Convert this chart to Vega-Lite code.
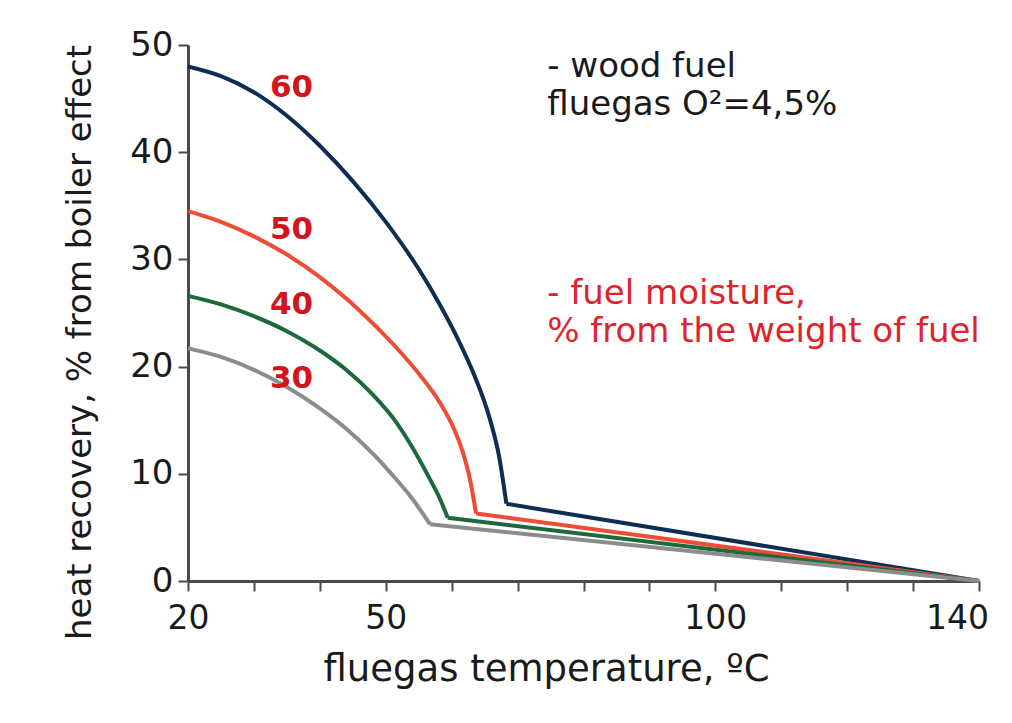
{
  "$schema": "https://vega.github.io/schema/vega-lite/v6.json",
  "width": 791,
  "height": 536,
  "autosize": {"type": "none"},
  "padding": {"left": 188, "top": 45, "right": 33, "bottom": 142},
  "background": "white",
  "config": {
    "view": {"stroke": null},
    "font": "DejaVu Sans"
  },
  "datasets": {
    "curves": [
      {"m": "60", "t": 20, "r": 48.0}, {"m": "60", "t": 25, "r": 47.1}, {"m": "60", "t": 30, "r": 45.6},
      {"m": "60", "t": 35, "r": 43.4}, {"m": "60", "t": 40, "r": 40.6}, {"m": "60", "t": 45, "r": 37.3},
      {"m": "60", "t": 50, "r": 33.5}, {"m": "60", "t": 55, "r": 29.1}, {"m": "60", "t": 58, "r": 26.0},
      {"m": "60", "t": 61, "r": 22.5}, {"m": "60", "t": 63.5, "r": 19.1}, {"m": "60", "t": 65.8, "r": 15.1},
      {"m": "60", "t": 67.2, "r": 11.6}, {"m": "60", "t": 68.3, "r": 7.2},
      {"m": "50", "t": 20, "r": 34.5}, {"m": "50", "t": 25, "r": 33.5}, {"m": "50", "t": 30, "r": 32.15},
      {"m": "50", "t": 35, "r": 30.45}, {"m": "50", "t": 40, "r": 28.35}, {"m": "50", "t": 44, "r": 26.35},
      {"m": "50", "t": 48, "r": 24.05}, {"m": "50", "t": 52, "r": 21.5}, {"m": "50", "t": 55, "r": 19.35},
      {"m": "50", "t": 58.2, "r": 16.65}, {"m": "50", "t": 60.2, "r": 14.4}, {"m": "50", "t": 61.7, "r": 12.0},
      {"m": "50", "t": 62.8, "r": 9.4}, {"m": "50", "t": 63.7, "r": 6.3},
      {"m": "40", "t": 20, "r": 26.6}, {"m": "40", "t": 25, "r": 25.8}, {"m": "40", "t": 30, "r": 24.7},
      {"m": "40", "t": 35, "r": 23.3}, {"m": "40", "t": 40, "r": 21.5}, {"m": "40", "t": 44, "r": 19.7},
      {"m": "40", "t": 48, "r": 17.4}, {"m": "40", "t": 51.6, "r": 14.8}, {"m": "40", "t": 54, "r": 12.5},
      {"m": "40", "t": 56.7, "r": 9.5}, {"m": "40", "t": 58.2, "r": 7.7}, {"m": "40", "t": 59.4, "r": 5.9},
      {"m": "30", "t": 20, "r": 21.7}, {"m": "30", "t": 25, "r": 20.9}, {"m": "30", "t": 30, "r": 19.7},
      {"m": "30", "t": 35, "r": 18.1}, {"m": "30", "t": 40, "r": 16.1}, {"m": "30", "t": 44, "r": 14.2},
      {"m": "30", "t": 48, "r": 11.9}, {"m": "30", "t": 51, "r": 9.9}, {"m": "30", "t": 54, "r": 7.7},
      {"m": "30", "t": 56.7, "r": 5.3}
    ],
    "tails": [
      {"m": "60", "t": 68.3, "r": 7.2}, {"m": "60", "t": 140, "r": 0},
      {"m": "50", "t": 63.7, "r": 6.3}, {"m": "50", "t": 140, "r": 0},
      {"m": "40", "t": 59.4, "r": 5.9}, {"m": "40", "t": 140, "r": 0},
      {"m": "30", "t": 56.7, "r": 5.3}, {"m": "30", "t": 140, "r": 0}
    ],
    "labels": [
      {"m": "60", "t": 35.7, "r": 46.0},
      {"m": "50", "t": 35.7, "r": 32.7},
      {"m": "40", "t": 35.7, "r": 25.7},
      {"m": "30", "t": 35.7, "r": 18.8}
    ],
    "notesBlack": [
      {"text": ["- wood fuel", "fluegas O²=4,5%"], "t": 74.5, "r": 47.0}
    ],
    "notesRed": [
      {"text": ["- fuel moisture,", "% from the weight of fuel"], "t": 74.5, "r": 25.8}
    ]
  },
  "layer": [
    {
      "data": {"name": "curves"},
      "mark": {"type": "line", "strokeWidth": 4, "interpolate": "monotone"},
      "encoding": {
        "x": {
          "field": "t", "type": "quantitative",
          "scale": {"domain": [20, 140], "nice": false, "zero": false},
          "axis": {
            "title": "fluegas temperature, ºC",
            "values": [20, 30, 40, 50, 60, 70, 80, 90, 100, 110, 120, 130, 140],
            "labelExpr": "(datum.value == 20 || datum.value == 50 || datum.value == 100 || datum.value == 140) ? datum.label : ''",
            "labelOffset": {"condition": {"test": "datum.value == 140", "value": -22}, "value": 0},
            "grid": false,
            "domainColor": "#4a4a4a", "domainWidth": 3,
            "tickColor": "#4a4a4a", "tickWidth": 2, "tickSize": 10,
            "labelFont": "DejaVu Sans", "labelFontSize": 33, "labelColor": "#1a1a1a",
            "labelPadding": 11, "labelOverlap": false, "labelFlush": false,
            "titleFont": "DejaVu Sans", "titleFontSize": 37, "titleFontWeight": "normal",
            "titleColor": "#1a1a1a", "titlePadding": 16, "titleX": 358
          }
        },
        "y": {
          "field": "r", "type": "quantitative",
          "scale": {"domain": [0, 50], "nice": false},
          "axis": {
            "title": "heat recovery, % from boiler effect",
            "values": [0, 10, 20, 30, 40, 50],
            "grid": false,
            "domainColor": "#4a4a4a", "domainWidth": 3,
            "tickColor": "#4a4a4a", "tickWidth": 2, "tickSize": 10,
            "labelFont": "DejaVu Sans", "labelFontSize": 34, "labelColor": "#1a1a1a",
            "labelPadding": 5, "labelFlush": false,
            "titleFont": "DejaVu Sans", "titleFontSize": 34, "titleFontWeight": "normal",
            "titleColor": "#1a1a1a", "titlePadding": 32, "titleY": 297
          }
        },
        "color": {
          "field": "m", "type": "nominal",
          "scale": {"domain": ["30", "40", "50", "60"], "range": ["#8c8c8c", "#1c6a3b", "#ef4c38", "#0e2d53"]},
          "legend": null
        },
        "order": {"field": "t", "type": "quantitative"}
      }
    },
    {
      "data": {"name": "tails"},
      "mark": {"type": "line", "strokeWidth": 4},
      "encoding": {
        "x": {"field": "t", "type": "quantitative"},
        "y": {"field": "r", "type": "quantitative"},
        "color": {"field": "m", "type": "nominal", "legend": null},
        "order": {"field": "t", "type": "quantitative"}
      }
    },
    {
      "data": {"name": "labels"},
      "mark": {"type": "text", "font": "DejaVu Sans", "fontSize": 31, "fontWeight": "bold", "color": "#d3141c", "align": "center", "baseline": "middle"},
      "encoding": {
        "x": {"field": "t", "type": "quantitative"},
        "y": {"field": "r", "type": "quantitative"},
        "text": {"field": "m"}
      }
    },
    {
      "data": {"name": "notesBlack"},
      "mark": {"type": "text", "font": "DejaVu Sans", "fontSize": 34, "lineHeight": 38, "color": "#1a1a1a", "align": "left", "baseline": "alphabetic"},
      "encoding": {
        "x": {"field": "t", "type": "quantitative"},
        "y": {"field": "r", "type": "quantitative"},
        "text": {"field": "text"}
      }
    },
    {
      "data": {"name": "notesRed"},
      "mark": {"type": "text", "font": "DejaVu Sans", "fontSize": 34, "lineHeight": 38, "color": "#e0222b", "align": "left", "baseline": "alphabetic"},
      "encoding": {
        "x": {"field": "t", "type": "quantitative"},
        "y": {"field": "r", "type": "quantitative"},
        "text": {"field": "text"}
      }
    }
  ]
}
